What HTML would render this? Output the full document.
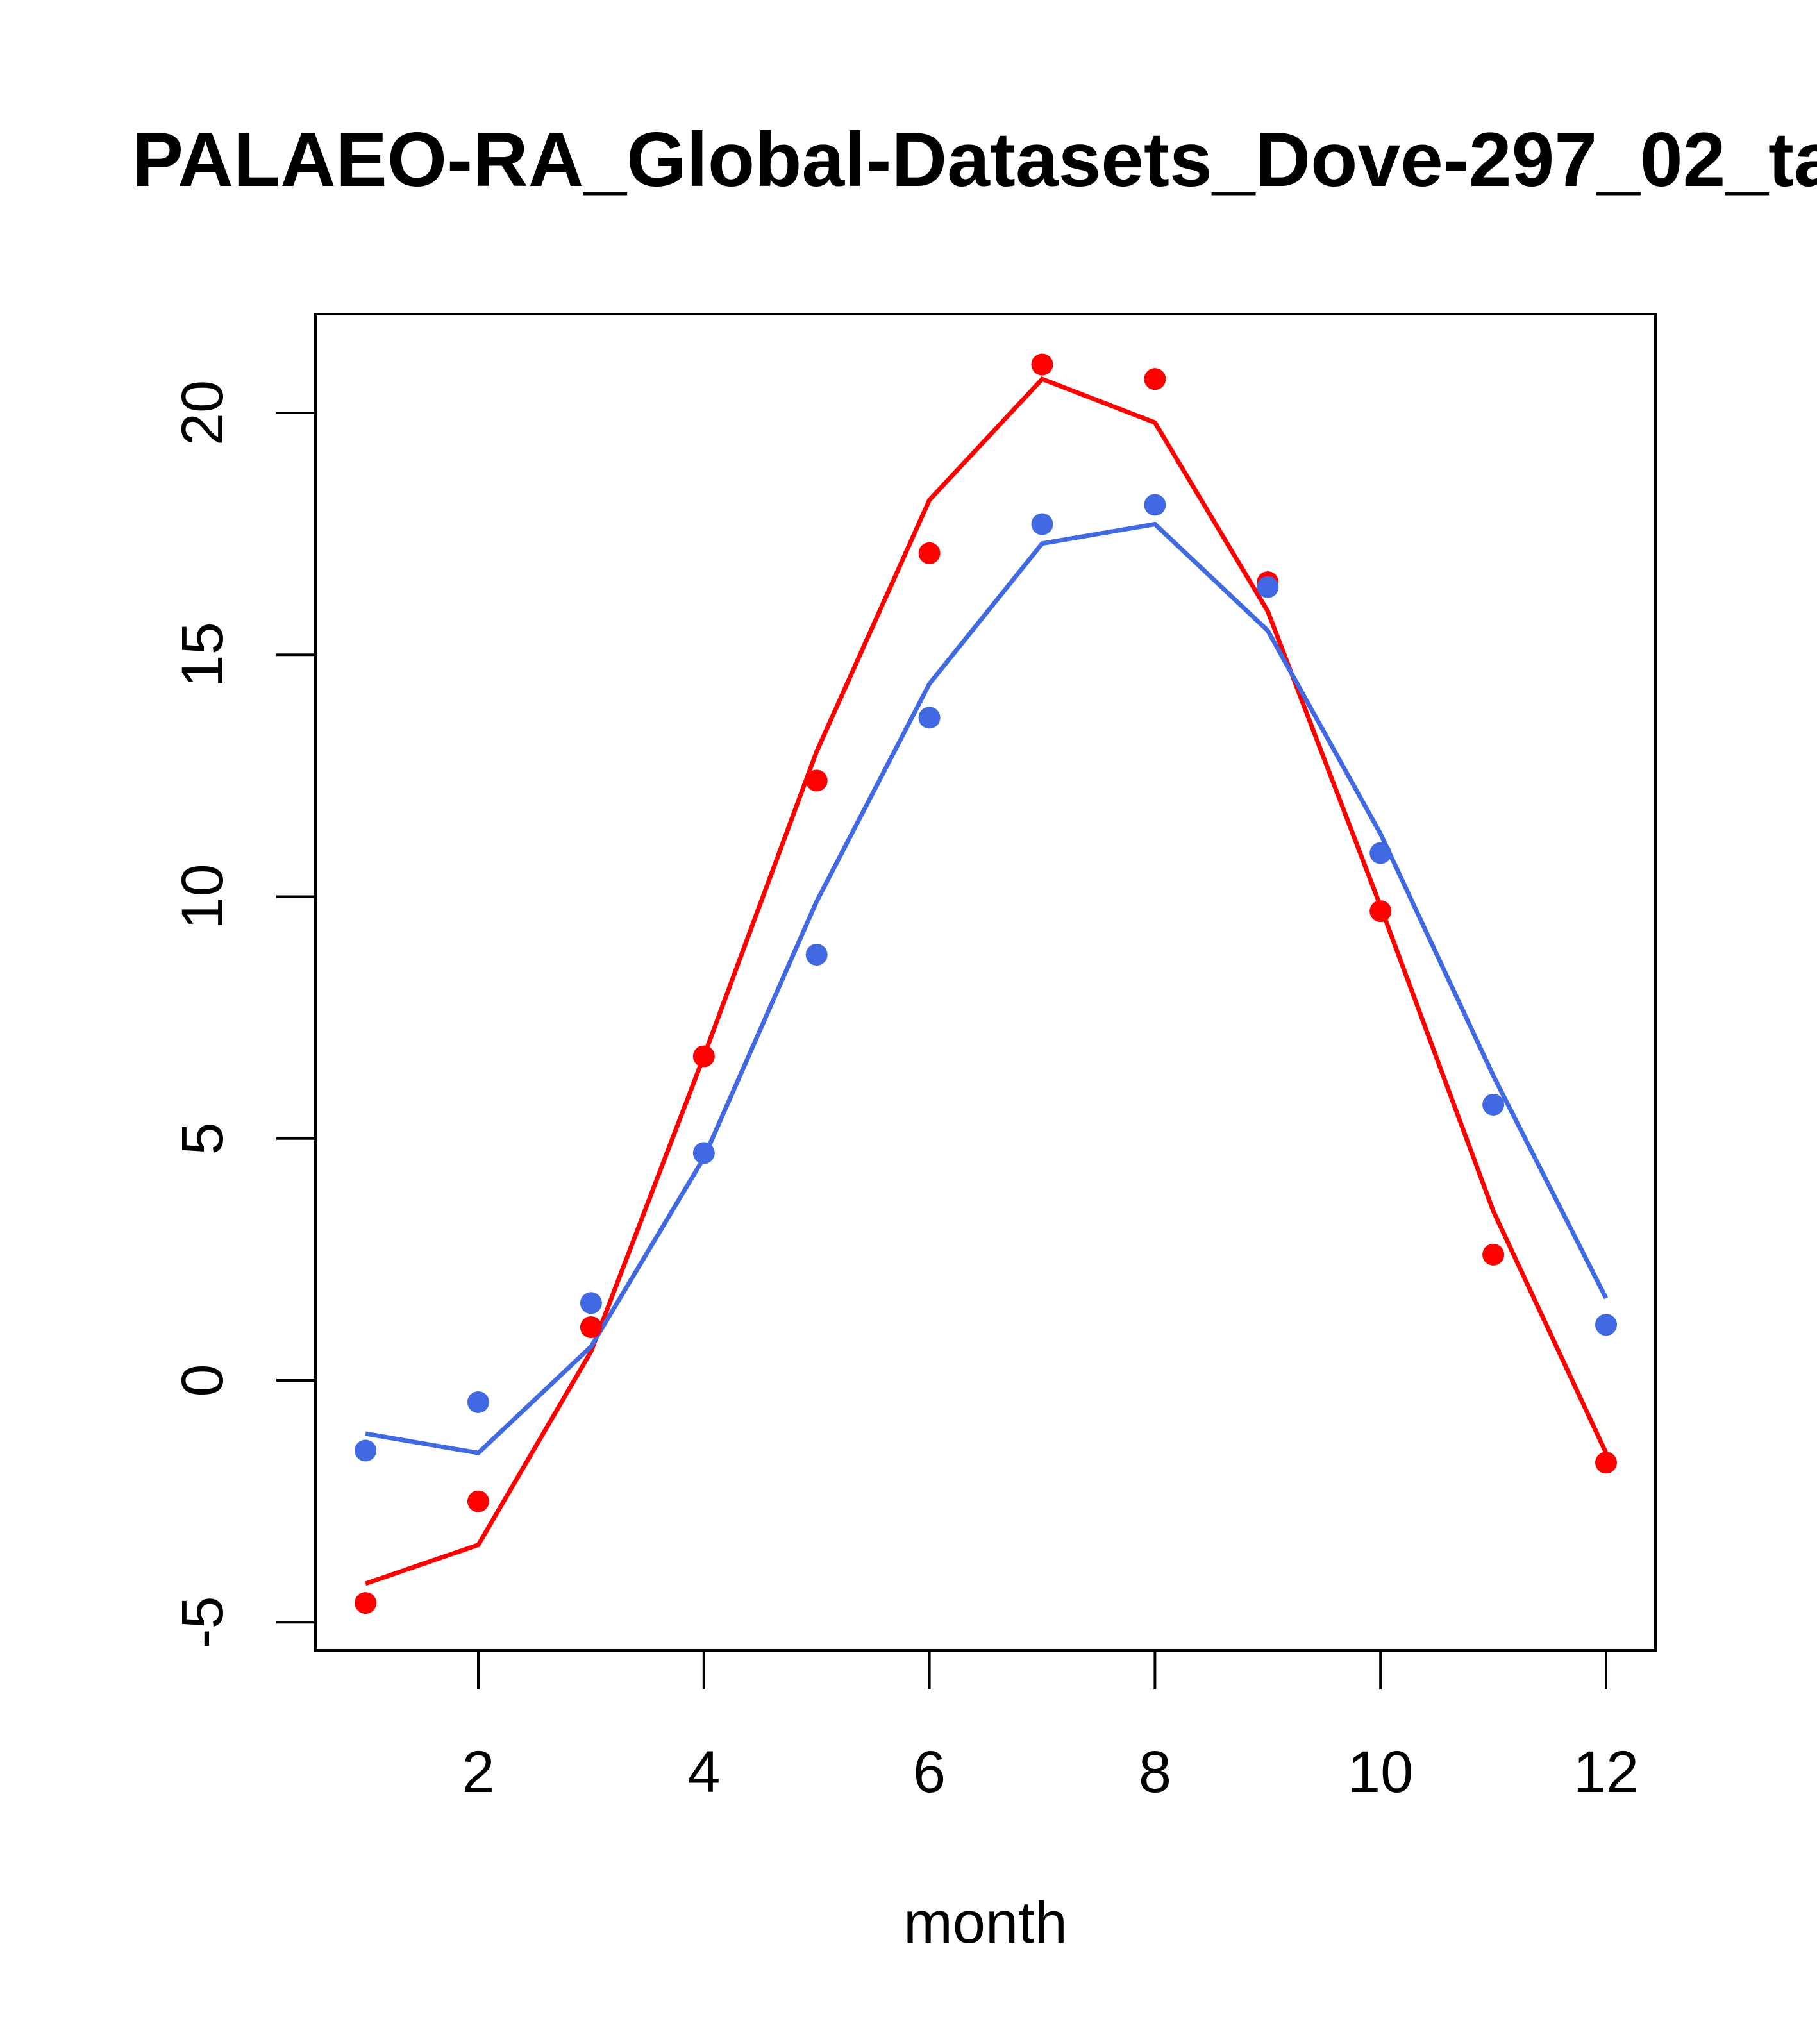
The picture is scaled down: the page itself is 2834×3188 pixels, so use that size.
<!DOCTYPE html>
<html><head><meta charset="utf-8"><style>
html,body{margin:0;padding:0;background:#fff;}
svg{display:block;font-family:"Liberation Sans",sans-serif;}
</style></head><body>
<svg id="chart" width="2834" height="3188" viewBox="0 0 2834 3188">
<rect width="2834" height="3188" fill="#fff"/>
<text x="206" y="290" font-size="120" font-weight="bold">PALAEO-RA_Global-Datasets_Dove-297_02_ta</text>
<rect x="492" y="490" width="2090" height="2084" fill="none" stroke="#000" stroke-width="4"/>
<text x="1537" y="3030" font-size="92" text-anchor="middle">month</text>
<g id="axes"></g>
<g id="series"></g>
</svg>
<script>
const months=[1,2,3,4,5,6,7,8,9,10,11,12];
const redPoints=[-4.6,-2.5,1.1,6.7,12.4,17.1,21.0,20.7,16.5,9.7,2.6,-1.7];
const redLine=[-4.2,-3.4,0.6,6.7,13.0,18.2,20.7,19.8,15.9,9.8,3.5,-1.5];
const bluePoints=[-1.45,-0.45,1.6,4.7,8.8,13.7,17.7,18.1,16.4,10.9,5.7,1.15];
const blueLine=[-1.1,-1.5,0.7,4.6,9.9,14.4,17.3,17.7,15.5,11.3,6.3,1.7];
const xTicks=[2,4,6,8,10,12];
const yTicks=[-5,0,5,10,15,20];
const NS="http://www.w3.org/2000/svg";
function xs(m){return 746+(m-2)*(2505-746)/10;}
function ys(v){return 2153-v*(2153-644)/20;}
const axes=document.getElementById('axes'),ser=document.getElementById('series');
function mk(tag,attrs,parent){const e=document.createElementNS(NS,tag);for(const k in attrs)e.setAttribute(k,attrs[k]);parent.appendChild(e);return e;}
const xa=mk('line',{x1:xs(2),x2:xs(12),y1:2574,y2:2574,stroke:'#000','stroke-width':4},axes);


xTicks.forEach(t=>{
 const l=mk('line',{x1:xs(t),x2:xs(t),y1:2574,y2:2635,stroke:'#000','stroke-width':4},axes);
 
 
 const tx=mk('text',{x:xs(t),y:2795,'font-size':92,'text-anchor':'middle'},axes);
 tx.textContent=t;
 
 
});
const ya=mk('line',{x1:492,x2:492,y1:ys(-5),y2:ys(20),stroke:'#000','stroke-width':4},axes);


yTicks.forEach(t=>{
 const l=mk('line',{x1:431,x2:492,y1:ys(t),y2:ys(t),stroke:'#000','stroke-width':4},axes);
 
 
 const tx=mk('text',{x:0,y:0,'font-size':92,'text-anchor':'middle',transform:`translate(347,${ys(t)}) rotate(-90)`},axes);
 tx.textContent=t;
 
 
});
function line(vals,color,name){
 const p=mk('polyline',{points:vals.map((v,i)=>xs(months[i])+','+ys(v)).join(' '),fill:'none',stroke:color,'stroke-width':7},ser);
 
 
}
function pts(vals,color,name){
 vals.forEach((v,i)=>{
  const c=mk('circle',{cx:xs(months[i]),cy:ys(v),r:17,fill:color},ser);
  
  
 });
}
line(redLine,'#ff0000','red-line');
line(blueLine,'#4169e1','blue-line');
pts(redPoints,'#ff0000','red-point');
pts(bluePoints,'#4169e1','blue-point');
</script>
</body></html>
